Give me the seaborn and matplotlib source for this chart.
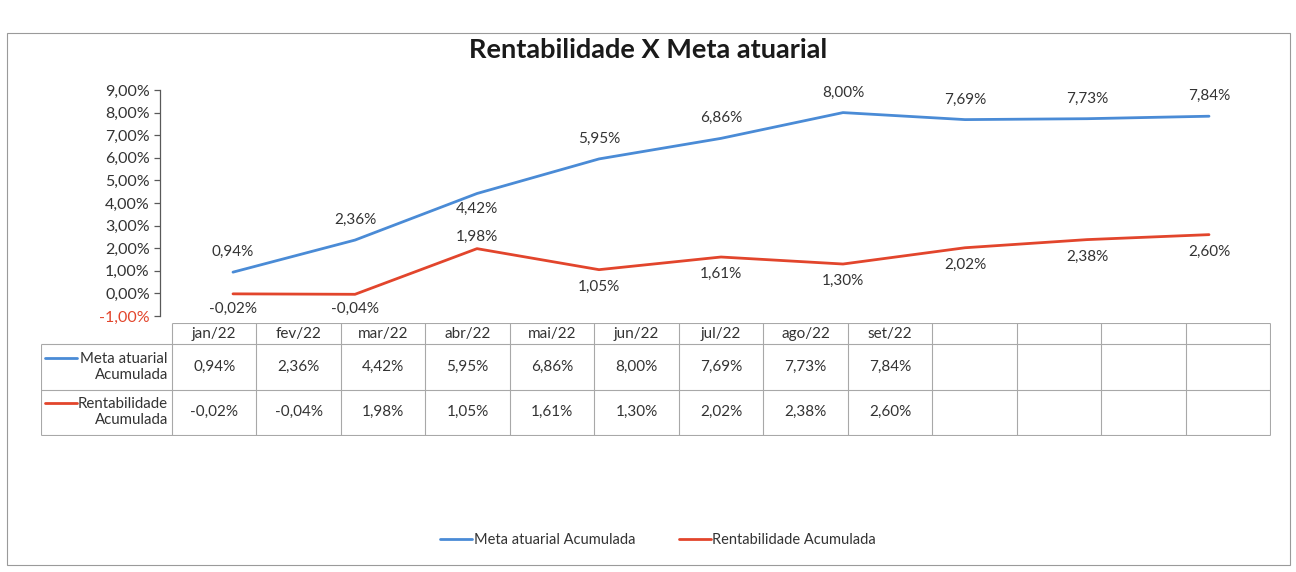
import matplotlib
matplotlib.use("Agg")
import matplotlib.pyplot as plt
from matplotlib.lines import Line2D
from matplotlib.patches import Rectangle
from matplotlib.ticker import FuncFormatter
import numpy as np
import pandas as pd
import seaborn as sns

sns.set_theme(style="white")
plt.rcParams["font.family"] = ["Lato", "DejaVu Sans"]

# data
meses = ["jan/22", "fev/22", "mar/22", "abr/22", "mai/22", "jun/22", "jul/22", "ago/22", "set/22"]
meta_atuarial = [0.94, 2.36, 4.42, 5.95, 6.86, 8.00, 7.69, 7.73, 7.84]
rentabilidade = [-0.02, -0.04, 1.98, 1.05, 1.61, 1.30, 2.02, 2.38, 2.60]
n_colunas_tabela = 13
serie_meta = "Meta atuarial Acumulada"
serie_rent = "Rentabilidade Acumulada"

BLUE = "#4A8BD6"
RED = "#E2452C"
TXT = "#333333"
W, H = 1296, 572


def pct(v):
    return f"{v:.2f}".replace(".", ",") + "%"


def px_axes(x0, y0, x1, y1):
    return fig.add_axes([x0 / W, 1 - y1 / H, (x1 - x0) / W, (y1 - y0) / H])


df = pd.DataFrame({
    "mes": meses * 2,
    "valor": meta_atuarial + rentabilidade,
    "serie": [serie_meta] * len(meses) + [serie_rent] * len(meses),
})

fig = plt.figure(figsize=(W / 100, H / 100), dpi=100)

# chart border
fig.add_artist(Rectangle((7 / W, 1 - 565 / H), 1283 / W, 532 / H, transform=fig.transFigure,
                         fill=False, edgecolor="#9A9A9A", linewidth=0.8))

fig.text(648 / W, 1 - 50 / H, "Rentabilidade X Meta atuarial", ha="center", va="center",
         fontsize=19.5, fontweight="bold", color="#1A1A1A")

####
# lines
####
ax = px_axes(172, 90, 1270, 316)
sns.lineplot(data=df, x="mes", y="valor", hue="serie", palette=[BLUE, RED],
             linewidth=2.0, sort=False, legend=False, ax=ax)
ax.set_xlim(-0.5, len(meses) - 0.5)
ax.set_ylim(-1, 9)
ax.set_yticks(np.arange(-1, 10, 1))
ax.yaxis.set_major_formatter(FuncFormatter(lambda v, _: pct(v)))
ax.set_xticks([])
ax.set_xlabel("")
ax.set_ylabel("")
for s in ["top", "right", "bottom"]:
    ax.spines[s].set_visible(False)
ax.spines["left"].set_position(("outward", 9))
ax.spines["left"].set_color("#595959")
ax.spines["left"].set_linewidth(0.9)
ax.tick_params(axis="y", left=True, direction="out", length=4, width=0.9, color="#595959",
               labelsize=11.5, labelcolor=TXT, pad=3)
ax.get_yticklabels()[0].set_color(RED)
ax.patch.set_alpha(0)

off_meta = [20, 20, -15, 20, 20, 20, 20, 20, 20]
off_rent = [-15, -15, 12, -17, -17, -17, -17, -17, -17]
for i, (m, r) in enumerate(zip(meta_atuarial, rentabilidade)):
    ax.annotate(pct(m), (i, m), xytext=(0, off_meta[i]), textcoords="offset pixels",
                ha="center", va="center", fontsize=11, color=TXT)
    ax.annotate(pct(r), (i, r), xytext=(0, off_rent[i]), textcoords="offset pixels",
                ha="center", va="center", fontsize=11, color=TXT)

####
# data table
####
tx = px_axes(41, 323, 1271, 436)
tx.set_xlim(41, 1271)
tx.set_ylim(436, 323)
tx.axis("off")
grid = "#A8A8A8"
edges = np.linspace(172, 1270, n_colunas_tabela + 1)
rows = [323, 344, 390, 435]
tx.hlines(rows[0], 172, 1270, color=grid, lw=0.8)
tx.hlines(rows[1:], 41, 1270, color=grid, lw=0.8)
tx.vlines(edges, 323, 435, color=grid, lw=0.8)
tx.vlines(41, 344, 435, color=grid, lw=0.8)
centers = (edges[:-1] + edges[1:]) / 2
for i, mes in enumerate(meses):
    tx.text(centers[i], 334, mes, ha="center", va="center", fontsize=11, color=TXT)
    tx.text(centers[i], 367, pct(meta_atuarial[i]), ha="center", va="center", fontsize=11, color=TXT)
    tx.text(centers[i], 412, pct(rentabilidade[i]), ha="center", va="center", fontsize=11, color=TXT)

for yc, nome, cor in [(367, "Meta atuarial\nAcumulada", BLUE), (412, "Rentabilidade\nAcumulada", RED)]:
    tx.text(168, yc, nome, ha="right", va="center", fontsize=10.8, color=TXT, linespacing=1.2)
    tx.plot([45, 77], [yc - 9, yc - 9], color=cor, lw=2.0)

####
# legend
####
handles = [Line2D([0], [0], color=BLUE, lw=2.0), Line2D([0], [0], color=RED, lw=2.0)]
fig.legend(handles, [serie_meta, serie_rent], loc="center", bbox_to_anchor=(658 / W, 1 - 540 / H),
           ncol=2, frameon=False, handlelength=2.2, handletextpad=0.1, columnspacing=3.0,
           fontsize=10.5, labelcolor=TXT)

plt.savefig("out.png", dpi=100, facecolor="white")
plt.close()
